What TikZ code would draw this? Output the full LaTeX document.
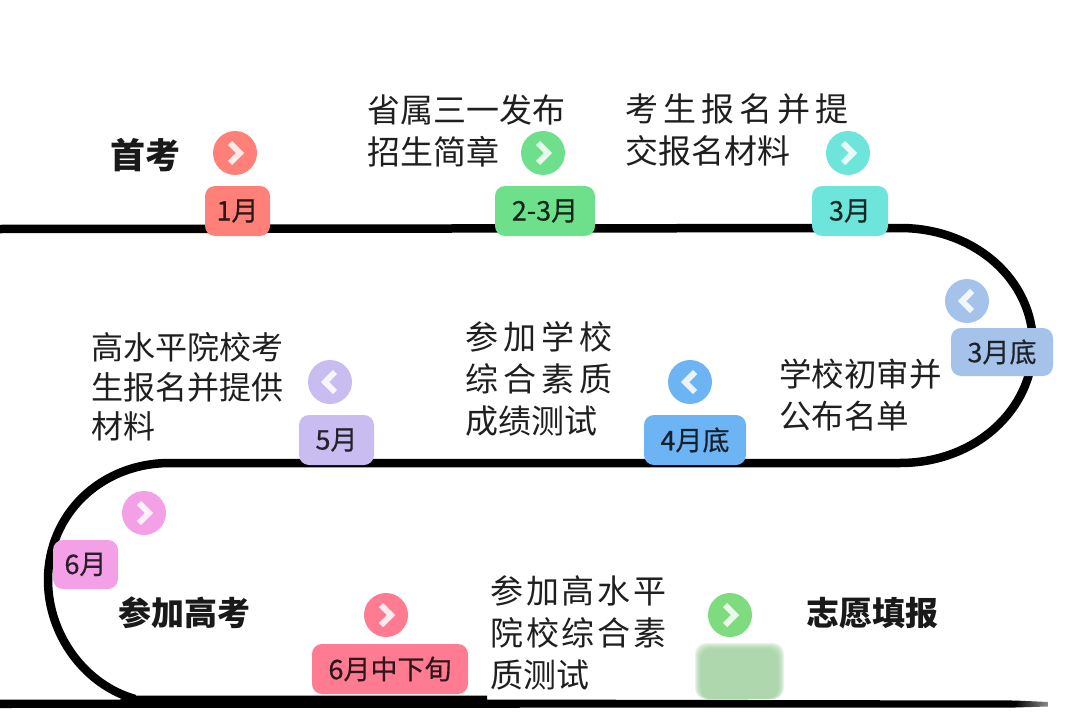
\documentclass[tikz,border=0pt]{standalone}
\usepackage{fontspec}
\newfontfamily\cjk{Noto Sans CJK SC}
\newcommand{\lsp}[2]{{\addfontfeature{LetterSpace=#1}#2}}
\definecolor{cRed}{HTML}{FF8078}
\definecolor{cGreen}{HTML}{6EE08C}
\definecolor{cTeal}{HTML}{6EE5DA}
\definecolor{cSky}{HTML}{A5C3EA}
\definecolor{cBlue}{HTML}{6DB4F5}
\definecolor{cLilac}{HTML}{C9BCF0}
\definecolor{cPink}{HTML}{F3A0E6}
\definecolor{cRose}{HTML}{FF7B92}
\definecolor{cLeaf}{HTML}{7EDC7E}
\definecolor{cBlur}{HTML}{A0D0A0}
\tikzset{
  track/.style={line width=8.5pt,black},
  pill/.style={fill=#1,rounded corners=10pt,minimum height=50pt,inner sep=0pt,text=#1!18!black,font=\fontsize{27}{27}\selectfont\cjk\addfontfeature{FakeBold=0.4}},
  dot/.style={circle,fill=#1,minimum size=44pt,inner sep=0pt},
  chevline/.style={line width=6pt,white,opacity=.85,line join=miter},
  body/.style={anchor=west,inner sep=0pt,align=left,text=black!88,font=\fontsize{33}{42}\selectfont\cjk},
  head/.style={anchor=west,inner sep=0pt,text=black!90,font=\fontsize{#1}{42}\selectfont\cjk\bfseries},
}
\newcommand{\chevR}[1]{\draw[chevline] ([shift={(-5,-10)}]#1.center) -- ([shift={(5,0)}]#1.center) -- ([shift={(-5,10)}]#1.center);}
\newcommand{\chevL}[1]{\draw[chevline] ([shift={(5,-10)}]#1.center) -- ([shift={(-5,0)}]#1.center) -- ([shift={(5,10)}]#1.center);}
\begin{document}
\begin{tikzpicture}[x=1pt,y=-1pt]
\useasboundingbox (0,0) rectangle (1080,720);
% track coordinates
\coordinate (a0) at (0,229);
\coordinate (a1) at (900,228);
\coordinate (a2) at (1033,345);
\coordinate (a3) at (900,463);
\coordinate (a4) at (170,463);
\coordinate (a5) at (48,580);
\coordinate (a6) at (135,699);
\draw[track] (a0) -- (a1)
  .. controls (975,228) and (1033,280) .. (a2)
  .. controls (1033,410) and (975,463) .. (a3)
  -- (a4)
  .. controls (100,463) and (48,515) .. (a5)
  .. controls (48,635) and (85,685) .. (a6);
\fill[black] (0,699.5) -- (120,699.5) -- (135,695.5) -- (487,695.5) -- (487,699.5) -- (1015,700.5)
  -- (1015,707.5) -- (0,708) -- cycle;
\shade[left color=black,right color=black!45] (1015,700.5) -- (1048,702) -- (1048,706.5) -- (1015,707.5) -- cycle;
% pills
\node[pill=cRed,minimum width=65pt] (p1) at (237.5,211) {1月};
\node[pill=cGreen,minimum width=100pt] (p2) at (545,211) {2-3月};
\node[pill=cTeal,minimum width=76pt] (p3) at (850,211) {3月};
\node[pill=cSky,minimum width=102pt,minimum height=48pt] (p4) at (1002,352) {3月底};
\node[pill=cBlue,minimum width=102pt] (p5) at (695,440) {4月底};
\node[pill=cLilac,minimum width=75pt] (p6) at (336.5,440) {5月};
\node[pill=cPink,minimum width=65pt,minimum height=49pt] (p7) at (85.5,564.5) {6月};
\node[pill=cRose,minimum width=156pt] (p8) at (390,669) {6月中下旬};
% blurred pill
\foreach \d in {0,1,...,6}{
  \fill[cBlur,opacity=.24,rounded corners=11pt] (695+\d,643+\d) rectangle (784-\d,699);
}
\node[minimum width=79pt,minimum height=48pt,inner sep=0pt] (p9) at (739.5,671) {};
% dots
\node[dot=cRed] (c1) at (235,153) {}; \chevR{c1}
\node[dot=cGreen] (c2) at (543,153) {}; \chevR{c2}
\node[dot=cTeal] (c3) at (848,153) {}; \chevR{c3}
\node[dot=cSky] (c4) at (967,301) {}; \chevL{c4}
\node[dot=cBlue] (c5) at (690,382) {}; \chevL{c5}
\node[dot=cLilac] (c6) at (330,382) {}; \chevL{c6}
\node[dot=cPink] (c7) at (144,513) {}; \chevR{c7}
\node[dot=cRose] (c8) at (386,615) {}; \chevR{c8}
\node[dot=cLeaf] (c9) at (730,615) {}; \chevR{c9}
% texts
\node[head=35] (t1) at (110,155) {首考};
\node[body] (t2) at (367.5,131) {省属三一发布\\招生简章};
\node[body] (t3) at (625.5,130) {\lsp{15}{考生报名并提}\\交报名材料};
\node[body,font=\fontsize{32.5}{42}\selectfont\cjk] (t4) at (779,395) {学校初审并\\公布名单};
\node[body] (t5) at (465.5,379) {\lsp{15}{参加学校}\\\lsp{15}{综合素质}\\成绩测试};
\node[body,font=\fontsize{32}{39.5}\selectfont\cjk] (t6) at (91.5,387) {高水平院校考\\生报名并提供\\材料};
\node[head=33] (t7) at (118.5,613) {参加高考};
\node[body] (t8) at (490.5,633) {\lsp{8}{参加高水平}\\\lsp{8}{院校综合素}\\质测试};
\node[head=33] (t9) at (806,613) {志愿填报};
\end{tikzpicture}
\end{document}
